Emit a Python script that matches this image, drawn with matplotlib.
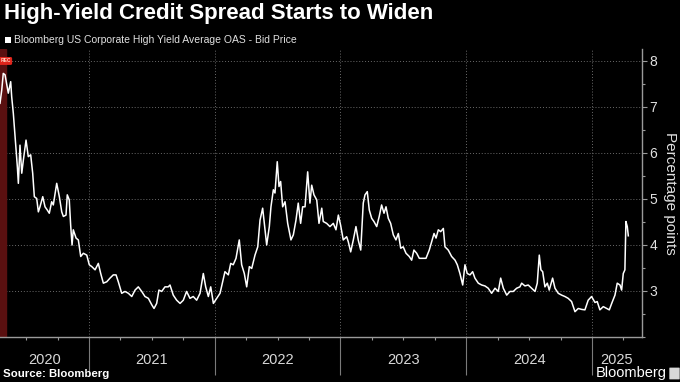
import numpy as np
import matplotlib.pyplot as plt
from matplotlib.patches import FancyBboxPatch, Rectangle
from matplotlib.ticker import MultipleLocator, FixedLocator

# Bloomberg US Corporate High Yield Average OAS (decimal years)
years = [2020.292, 2020.306, 2020.318, 2020.332, 2020.346, 2020.358, 2020.377, 2020.385,
         2020.398, 2020.412, 2020.430, 2020.438, 2020.451, 2020.465, 2020.478, 2020.499,
         2020.517, 2020.536, 2020.552, 2020.565, 2020.584, 2020.597, 2020.610, 2020.632,
         2020.650, 2020.668, 2020.684, 2020.703, 2020.716, 2020.743, 2020.764, 2020.783,
         2020.796, 2020.817, 2020.827, 2020.843, 2020.854, 2020.865, 2020.875, 2020.897,
         2020.915, 2020.934, 2020.955, 2020.982,
         2021.002, 2021.022, 2021.048, 2021.074, 2021.093, 2021.114, 2021.141, 2021.167,
         2021.193, 2021.215, 2021.233, 2021.260, 2021.286, 2021.313, 2021.340, 2021.366,
         2021.392, 2021.419, 2021.445, 2021.472, 2021.499, 2021.517, 2021.538, 2021.556,
         2021.578, 2021.604, 2021.630, 2021.644, 2021.670, 2021.697, 2021.724, 2021.750,
         2021.776, 2021.803, 2021.829, 2021.856, 2021.883, 2021.909, 2021.928, 2021.949,
         2021.968, 2021.989,
         2022.015, 2022.042, 2022.063, 2022.081, 2022.108, 2022.127, 2022.147, 2022.169,
         2022.195, 2022.214, 2022.235, 2022.254, 2022.275, 2022.294, 2022.320, 2022.342,
         2022.360, 2022.381, 2022.394, 2022.413, 2022.434, 2022.447, 2022.466, 2022.479,
         2022.497, 2022.511, 2022.524, 2022.540, 2022.559, 2022.580, 2022.606, 2022.625,
         2022.646, 2022.664, 2022.683, 2022.699, 2022.718, 2022.739, 2022.757, 2022.771,
         2022.789, 2022.811, 2022.829, 2022.851, 2022.863, 2022.890, 2022.916, 2022.943,
         2022.964, 2022.983,
         2023.001, 2023.022, 2023.049, 2023.062, 2023.081, 2023.102, 2023.123, 2023.141,
         2023.161, 2023.181, 2023.195, 2023.213, 2023.229, 2023.248, 2023.266, 2023.288,
         2023.308, 2023.327, 2023.346, 2023.362, 2023.380, 2023.399, 2023.420, 2023.441,
         2023.460, 2023.479, 2023.499, 2023.521, 2023.547, 2023.566, 2023.584, 2023.606,
         2023.627, 2023.653, 2023.680, 2023.706, 2023.725, 2023.744, 2023.760, 2023.778,
         2023.797, 2023.818, 2023.831, 2023.857, 2023.884, 2023.911, 2023.929, 2023.950,
         2023.972, 2023.990,
         2024.008, 2024.030, 2024.051, 2024.069, 2024.096, 2024.123, 2024.149, 2024.175,
         2024.202, 2024.229, 2024.255, 2024.274, 2024.295, 2024.322, 2024.348, 2024.374,
         2024.401, 2024.427, 2024.441, 2024.467, 2024.493, 2024.520, 2024.547, 2024.565,
         2024.581, 2024.594, 2024.608, 2024.626, 2024.645, 2024.660, 2024.687, 2024.706,
         2024.732, 2024.759, 2024.785, 2024.811, 2024.838, 2024.865, 2024.891, 2024.918,
         2024.944, 2024.970, 2024.997,
         2025.024, 2025.042, 2025.063, 2025.090, 2025.117, 2025.138, 2025.157, 2025.183,
         2025.201, 2025.223, 2025.236, 2025.249, 2025.262, 2025.270, 2025.281, 2025.289]

oas = [7.08, 7.37, 7.73, 7.70, 7.48, 7.30, 7.55, 7.22,
       6.86, 6.35, 5.70, 5.34, 6.17, 5.56, 5.85, 6.28,
       5.92, 5.96, 5.56, 5.05, 5.01, 4.72, 4.83, 5.05,
       4.83, 4.76, 4.69, 4.94, 4.87, 5.34, 5.05, 4.72,
       4.62, 4.65, 5.09, 4.98, 4.43, 4.00, 4.33, 4.15,
       4.11, 3.75, 3.82, 3.78,
       3.57, 3.53, 3.46, 3.60, 3.38, 3.17, 3.20, 3.28,
       3.35, 3.35, 3.20, 2.95, 2.99, 2.95, 2.88, 3.02,
       3.09, 2.99, 2.88, 2.84, 2.70, 2.62, 2.73, 3.02,
       2.99, 3.09, 3.09, 3.13, 2.91, 2.80, 2.73, 2.80,
       2.99, 2.84, 2.88, 2.80, 2.95, 3.38, 3.09, 2.88,
       3.09, 2.73,
       2.84, 2.95, 3.20, 3.42, 3.35, 3.60, 3.57, 3.71,
       4.11, 3.57, 3.38, 3.09, 3.53, 3.49, 3.78, 3.96,
       4.54, 4.80, 4.47, 4.00, 4.40, 4.83, 5.20, 5.13,
       5.81, 5.27, 5.38, 4.83, 4.94, 4.47, 4.11, 4.22,
       4.54, 4.91, 4.47, 4.83, 4.83, 5.59, 4.91, 5.30,
       5.09, 4.98, 4.47, 4.80, 4.51, 4.47, 4.40, 4.47,
       4.33, 4.65,
       4.43, 4.11, 4.18, 4.07, 3.85, 4.11, 4.40, 4.11,
       3.89, 4.91, 5.09, 5.16, 4.76, 4.58, 4.51, 4.40,
       4.62, 4.87, 4.69, 4.83, 4.58, 4.47, 4.22, 4.11,
       4.25, 3.93, 3.96, 3.82, 3.75, 3.67, 3.89, 3.82,
       3.71, 3.71, 3.71, 3.89, 4.07, 4.25, 4.15, 4.33,
       4.29, 4.36, 3.96, 3.89, 3.75, 3.67, 3.57, 3.38,
       3.13, 3.57,
       3.38, 3.35, 3.42, 3.28, 3.17, 3.13, 3.11, 3.06,
       2.95, 3.06, 2.99, 3.28, 3.06, 2.91, 2.99, 2.99,
       3.06, 3.09, 3.17, 3.11, 3.13, 3.06, 2.99, 3.17,
       3.78, 3.46, 3.42, 3.09, 3.17, 3.02, 3.28, 3.06,
       2.95, 2.91, 2.88, 2.84, 2.77, 2.55, 2.62, 2.60,
       2.59, 2.80, 2.88,
       2.75, 2.77, 2.59, 2.66, 2.62, 2.59, 2.73, 2.91,
       3.17, 3.13, 3.02, 3.38, 3.46, 4.51, 4.40, 4.20]

year_labels = ['2020', '2021', '2022', '2023', '2024', '2025']
recession = (2020.08, 2020.340)
x_start, x_end = 2020.292, 2025.398

plt.rcParams['font.family'] = ['Liberation Sans Narrow', 'Liberation Sans', 'DejaVu Sans']

fig = plt.figure(figsize=(6.8, 3.82), dpi=100, facecolor='black')
ax = fig.add_axes([0.0, 45 / 382, 642 / 680, (337 - 49) / 382])
ax.set_facecolor('black')

# recession shading
ax.axvspan(recession[0], recession[1], color='#5a1010', zorder=1)

ax.plot(years, oas, color='white', lw=1.1, zorder=3)

ax.set_xlim(x_start, x_end)
ax.set_ylim(2.0, 8.26)

# grid
for yv in range(3, 9):
    ax.axhline(yv, color='#6a6a6a', lw=0.7, ls=(0, (1, 2)), zorder=0)
for yr in range(2021, 2026):
    ax.axvline(yr, color='#6a6a6a', lw=0.7, ls=(0, (1, 2)), zorder=0)

# spines
for s in ['top', 'left']:
    ax.spines[s].set_visible(False)
for s in ['bottom', 'right']:
    ax.spines[s].set_color('#9a9a9a')
    ax.spines[s].set_linewidth(1.0)

# y axis on the right
ax.yaxis.tick_right()
ax.yaxis.set_minor_locator(MultipleLocator(0.5))
ax.set_yticks([3, 4, 5, 6, 7, 8])
ax.tick_params(axis='y', which='major', colors='#9a9a9a', length=3.5, width=0.8,
               labelcolor='#e0e0e0', labelsize=10, pad=2)
ax.tick_params(axis='y', which='minor', colors='#9a9a9a', length=2.2, width=0.8)
ax.yaxis.set_label_position('right')
ax.set_ylabel('Percentage points', rotation=270, color='#e0e0e0', fontsize=11,
              labelpad=14)

# x axis: long year separators as major ticks, quarters as minor ticks
ax.xaxis.set_major_locator(FixedLocator([2021, 2022, 2023, 2024, 2025]))
ax.xaxis.set_minor_locator(FixedLocator([y + q for y in range(2020, 2026)
                                         for q in (0.25, 0.5, 0.75)]))
ax.tick_params(axis='x', which='major', colors='#7a7a7a', length=27, width=0.8,
               labelbottom=False)
ax.tick_params(axis='x', which='minor', colors='#9a9a9a', length=2.5, width=0.8)

bounds = [x_start, 2021, 2022, 2023, 2024, 2025, x_end]
for i, lab in enumerate(year_labels):
    ax.text((bounds[i] + bounds[i + 1]) / 2, -0.055, lab, transform=ax.get_xaxis_transform(),
            ha='center', va='top', color='#d8d8d8', fontsize=10.5)

# recession badge
ax.text(2020.335, 8.0, 'REC', color='#ffd0c0', fontsize=3.5, fontweight='bold',
        ha='center', va='center', zorder=5, clip_on=False,
        bbox=dict(boxstyle='round,pad=0.3', fc='#e0241b', ec='none'))

# titles
fig.text(0.006, 0.992, 'High-Yield Credit Spread Starts to Widen', color='white',
         fontsize=16, fontweight='bold', ha='left', va='top')
fig.patches.append(Rectangle((5 / 680, 1 - 43 / 382), 6 / 680, 6 / 382,
                             transform=fig.transFigure, fc='white', ec='none'))
fig.text(14 / 680, 1 - 40 / 382, 'Bloomberg US Corporate High Yield Average OAS - Bid Price',
         color='#e0e0e0', fontsize=7.5, ha='left', va='center')

# footer
fig.text(3 / 680, 1 - 374 / 382, 'Source: Bloomberg', color='white', fontsize=8.2,
         fontweight='bold', ha='left', va='center')
fig.text(667 / 680, 1 - 373 / 382, 'Bloomberg', color='white', fontsize=10.5,
         ha='right', va='center')
fig.patches.append(FancyBboxPatch((670 / 680, 1 - 379 / 382), 9 / 680, 11 / 382,
                                  boxstyle='round,pad=0.001', transform=fig.transFigure,
                                  fc='#d8d8d8', ec='none'))

fig.savefig('out.png', dpi=100, facecolor='black')
